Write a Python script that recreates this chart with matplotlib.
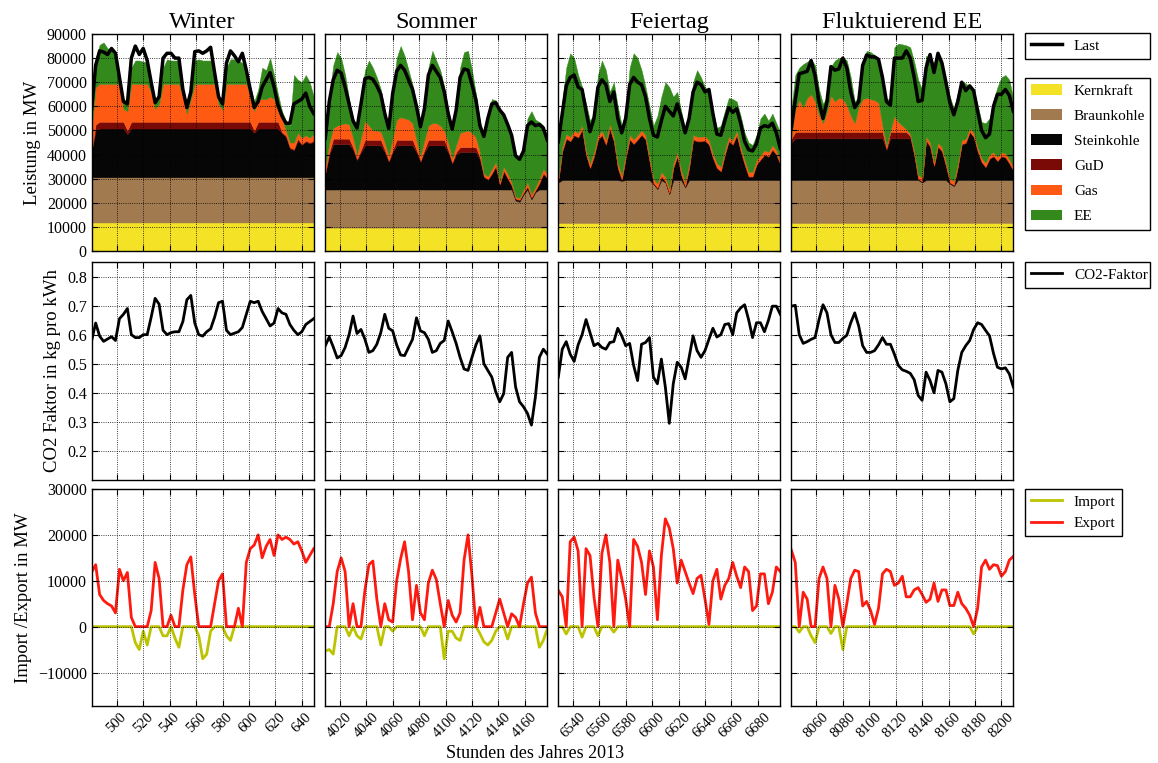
import numpy as np
import matplotlib
matplotlib.use("Agg")
import matplotlib.pyplot as plt
from matplotlib.patches import Patch
from matplotlib.lines import Line2D

plt.rcParams['font.family'] = ['Liberation Serif', 'DejaVu Serif']

# ---------------- data ----------------
scenarios = ["Winter", "Sommer", "Feiertag", "Fluktuierend EE"]
start_hours = [481, 4009, 6529, 8041]
step_hours = 3
xticks = [
    [500, 520, 540, 560, 580, 600, 620, 640],
    [4020, 4040, 4060, 4080, 4100, 4120, 4140, 4160],
    [6540, 6560, 6580, 6600, 6620, 6640, 6660, 6680],
    [8060, 8080, 8100, 8120, 8140, 8160, 8180, 8200],
]

kern_mw = [11800, 9700, 11600, 11600]

# ---- Winter ----
load_w = [59000, 77000, 83000, 82500, 81500, 84000, 82000, 72000, 62000, 61000,
          80000, 85000, 81500, 84000, 79000, 70000, 61500, 64000, 80000, 82000,
          82000, 80000, 80000, 67000, 59500, 66000, 82700, 83000, 82000, 83000,
          84500, 74000, 64000, 61000, 78000, 83000, 81000, 78500, 82000, 75000,
          67000, 59500, 62000, 68000, 71000, 74000, 68000, 60500, 56000, 53000,
          53000, 61000, 62000, 63000, 65500, 60000, 57000]
braun_w = [18800, 18800, 18800, 18800, 18800, 18800, 18800, 18800, 18800, 18800,
           18800, 18800, 18800, 18800, 18800, 18800, 18800, 18800, 18800, 18800,
           18800, 18800, 18800, 18800, 18800, 18800, 18800, 18800, 18800, 18800,
           18800, 18800, 18800, 18800, 18800, 18800, 18800, 18800, 18800, 18800,
           18800, 18800, 18800, 18800, 18800, 18800, 18800, 18800, 18800, 18800,
           18800, 18800, 18800, 18800, 18800, 18800, 18800]
stein_w = [10900, 19400, 20200, 20200, 20200, 20200, 20200, 20200, 20200, 17900,
           20200, 20200, 20200, 20200, 20200, 20200, 20200, 20200, 20200, 20200,
           20200, 20200, 20200, 20200, 20200, 20200, 20200, 20200, 20200, 20200,
           20200, 20200, 20200, 20200, 20200, 20200, 20200, 20200, 20200, 20200,
           20200, 18400, 20200, 20200, 20200, 20200, 20200, 20200, 18200, 16800,
           11900, 11200, 15400, 13300, 14700, 14000, 14700]
gud_w = [300, 2500, 2800, 2800, 2800, 2800, 2800, 2800, 2800, 1500,
         2800, 2800, 2800, 2800, 2800, 2800, 2800, 2800, 2800, 2800,
         2800, 2800, 2800, 2800, 2800, 2800, 2800, 2800, 2800, 2800,
         2800, 2800, 2800, 2800, 2800, 2800, 2800, 2800, 2800, 2800,
         2800, 1000, 2800, 2800, 2800, 2800, 2800, 2800, 500, 500,
         500, 500, 500, 500, 500, 500, 500]
gas_w = [8700, 15500, 15700, 15700, 15700, 15700, 15700, 15700, 5400, 8000,
         15700, 15700, 15700, 15700, 15700, 12400, 5400, 7400, 15700, 15700,
         15700, 15700, 15700, 10400, 3400, 9400, 15700, 15700, 15700, 15700,
         15700, 15700, 7400, 4900, 15700, 15700, 15700, 15700, 15700, 15700,
         10900, 8000, 9400, 9400, 9400, 10400, 9400, 4400, 5700, 2100,
         2000, 2700, 2500, 2600, 2200, 1900, 2700]
ee_w = [13500, 12000, 16200, 17200, 14700, 14700, 10700, 3700, 4000, 4000,
        6700, 9700, 9700, 9200, 9200, 4000, 3500, 3000, 6700, 10200,
        9700, 9700, 9700, 4000, 3500, 4000, 9700, 10200, 9700, 9700,
        9700, 3700, 3500, 3500, 6700, 10200, 10200, 9700, 8700, 5700,
        3500, 4000, 4000, 13000, 12000, 16000, 10000, 7000, 3000, 4000,
        7000, 28000, 22000, 23000, 25000, 23000, 15500]
co2_w = [0.58, 0.64, 0.595, 0.577, 0.585, 0.593, 0.58, 0.655, 0.67, 0.69,
         0.60, 0.59, 0.59, 0.60, 0.60, 0.66, 0.725, 0.705, 0.615, 0.60,
         0.607, 0.61, 0.61, 0.645, 0.72, 0.735, 0.64, 0.60, 0.595, 0.61,
         0.62, 0.66, 0.71, 0.715, 0.615, 0.60, 0.605, 0.61, 0.625, 0.67,
         0.715, 0.71, 0.715, 0.68, 0.655, 0.63, 0.64, 0.69, 0.675, 0.67,
         0.635, 0.615, 0.60, 0.61, 0.635, 0.645, 0.655]
exp_w = [11900, 13500, 7000, 5700, 5000, 4500, 3000, 12500, 10000, 11800,
         2000, 0, 0, 0, 0, 3500, 14000, 10500, 0, 0,
         2500, 0, 0, 8000, 13500, 15200, 7000, 0, 0, 0,
         0, 5000, 10000, 11500, 0, 0, 0, 4000, 0, 14000,
         17000, 17800, 20000, 15000, 17500, 19000, 15500, 20000, 19000, 19500,
         19000, 18000, 18500, 16500, 14000, 15500, 17000]
imp_w = [0, 0, 0, 0, 0, 0, 0, 0, 0, 0,
         0, -3500, -5000, -1000, -4000, 0, 0, 0, -2000, -2000,
         0, -2500, -4500, 0, 0, 0, 0, -2000, -7000, -6000,
         -1000, 0, 0, 0, -2000, -3000, 0, 0, 0, 0,
         0, 0, 0, 0, 0, 0, 0, 0, 0, 0,
         0, 0, 0, 0, 0, 0, 0]

# ---- Sommer ----
load_s = [46700, 62000, 71000, 75000, 73800, 68000, 61000, 54000, 51000, 61000,
          71500, 72000, 71200, 68500, 65000, 57000, 50800, 65400, 74500, 77000,
          75000, 71000, 67000, 60000, 51500, 59000, 73000, 77000, 74500, 72000,
          66000, 57000, 50500, 58400, 72000, 75500, 75000, 69000, 62600, 52000,
          47500, 55000, 61000, 61500, 58500, 56500, 52500, 48000, 39500, 38000,
          41500, 52000, 53500, 52000, 52500, 51000, 46000]
braun_s = [15800, 15800, 15800, 15800, 15800, 15800, 15800, 15800, 15800, 15800,
           15800, 15800, 15800, 15800, 15800, 15800, 15800, 15800, 15800, 15800,
           15800, 15800, 15800, 15800, 15800, 15800, 15800, 15800, 15800, 15800,
           15800, 15800, 15800, 15800, 15800, 15800, 15800, 15800, 15800, 15800,
           15800, 15800, 15800, 15800, 15800, 15800, 15800, 15800, 11200, 10700,
           13700, 15800, 11700, 14700, 15800, 15800, 15800]
stein_s = [6500, 14500, 18800, 18800, 18800, 18800, 18800, 16500, 12200, 15500,
           18300, 18300, 18300, 18300, 18300, 15500, 11500, 15500, 18300, 18300,
           18300, 18300, 18300, 15500, 11500, 15500, 18300, 18300, 18300, 18300,
           18300, 15500, 10800, 14500, 15600, 15600, 15600, 15600, 15600, 12500,
           5200, 4000, 6500, 9500, 2000, 7500, 4500, 1500, 600, 600,
           600, 1000, 600, 600, 2500, 6500, 4500]
gud_s = [500, 1000, 2300, 2300, 2300, 2300, 2300, 1000, 500, 1000,
         2300, 2300, 2300, 2300, 2300, 1000, 500, 1000, 2300, 2300,
         2300, 2300, 2300, 1000, 500, 1000, 2300, 2300, 2300, 2300,
         2300, 1000, 500, 1000, 2000, 2000, 2000, 2000, 2000, 800,
         300, 300, 300, 300, 300, 300, 300, 300, 300, 300,
         300, 300, 300, 300, 300, 300, 300]
gas_s = [2500, 4000, 4400, 5400, 5900, 6400, 5900, 4000, 1800, 5000,
         7900, 5900, 3900, 3900, 3400, 3000, 2000, 5000, 8400, 9400,
         8900, 8400, 6900, 4000, 2000, 4000, 5900, 6900, 6900, 5900,
         3900, 3000, 1700, 3000, 5900, 6400, 6900, 5900, 3900, 2200,
         1000, 1200, 1700, 1700, 1200, 1700, 1700, 1200, 700, 700,
         1200, 1700, 1200, 1200, 1700, 1700, 1700]
ee_s = [10000, 19000, 26000, 30500, 27500, 20000, 10500, 8000, 11000, 16000,
        21000, 27000, 26000, 22000, 17500, 13500, 12000, 20000, 25500, 29500,
        26000, 20500, 16000, 15000, 12500, 14000, 24000, 30000, 26000, 23000,
        18000, 13500, 12500, 15500, 27000, 33000, 33000, 26000, 18000, 13000,
        15000, 25000, 29000, 25500, 30000, 22000, 21000, 20000, 17500, 16500,
        17500, 26500, 34500, 28000, 23500, 18000, 13000]
co2_s = [0.562, 0.592, 0.558, 0.52, 0.528, 0.556, 0.60, 0.664, 0.604, 0.618,
         0.584, 0.539, 0.545, 0.567, 0.607, 0.67, 0.622, 0.613, 0.565, 0.53,
         0.528, 0.556, 0.584, 0.658, 0.613, 0.607, 0.584, 0.539, 0.545, 0.57,
         0.58, 0.647, 0.61, 0.57, 0.522, 0.482, 0.477, 0.522, 0.565, 0.596,
         0.50, 0.477, 0.454, 0.403, 0.369, 0.397, 0.522, 0.539, 0.42, 0.369,
         0.352, 0.329, 0.289, 0.386, 0.522, 0.55, 0.533]
exp_s = [0, 0, 5000, 12000, 15000, 12000, 0, 5000, 0, 0,
         8000, 13500, 14300, 6000, 0, 5000, 1500, 1000, 10000, 14800,
         18500, 12000, 1500, 9000, 3000, 1500, 9500, 12300, 10300, 5000,
         0, 5700, 2500, 1000, 3000, 14500, 20000, 11000, 0, 4200,
         0, 0, 0, 3000, 6000, 3000, 0, 2800, 2000, 0,
         5000, 9500, 10800, 3000, 0, 0, 0]
imp_s = [-5300, -5000, -6000, 0, 0, 0, -2000, 0, -2000, -2700,
         0, 0, 0, 0, -4000, 0, 0, -1000, 0, 0,
         0, 0, 0, 0, 0, -2000, 0, 0, 0, 0,
         -7000, -1000, -1000, -2500, -3000, 0, 0, 0, 0, -1500,
         -3300, -4000, -3000, -1000, 0, 0, -2700, 0, 0, 0,
         0, 0, 0, 0, -4500, -3000, -500]

# ---- Feiertag ----
load_f = [45300, 57000, 68500, 72000, 73000, 68000, 67000, 58000, 49500, 55000,
          68000, 71000, 69000, 62000, 66000, 55000, 49000, 55000, 69000, 72000,
          70000, 69000, 64000, 55000, 48000, 47300, 54000, 60000, 58000, 56000,
          61000, 55500, 49000, 55000, 66000, 70000, 69000, 66000, 67000, 57000,
          48500, 48000, 54000, 59500, 57500, 59000, 53000, 45500, 42000, 41500,
          44500, 51000, 52000, 51500, 53000, 49000, 42500]
braun_f = [16800, 17800, 17800, 17800, 17800, 17800, 17800, 17800, 17800, 17800,
           17800, 17800, 17800, 17800, 17800, 17800, 17500, 17800, 17800, 17800,
           17800, 17800, 17800, 17800, 16100, 14100, 17800, 16800, 12000, 17800,
           17800, 17800, 14800, 17800, 17800, 17800, 17800, 17800, 17800, 17800,
           17800, 17800, 17800, 17800, 17800, 17800, 17800, 17800, 17800, 17800,
           17800, 17800, 17800, 17800, 17800, 17800, 17800]
stein_f = [300, 11800, 17100, 16000, 18500, 17600, 20800, 10400, 4900, 9700,
           16700, 18500, 14600, 21200, 16000, 4900, 300, 9000, 16700, 14900,
           16700, 18700, 16700, 7700, 300, 300, 1400, 300, 300, 4900,
           9700, 2100, 300, 4900, 16700, 16000, 16000, 16200, 14600, 9000,
           4900, 3500, 10400, 16000, 14600, 18500, 11800, 6300, 1400, 1400,
           6300, 8400, 10400, 9700, 12500, 10400, 6300]
gud_f = [300, 300, 300, 300, 300, 300, 300, 300, 300, 300,
         300, 300, 300, 300, 300, 300, 300, 300, 300, 300,
         300, 300, 300, 300, 300, 300, 300, 300, 300, 300,
         300, 300, 300, 300, 300, 300, 300, 300, 300, 300,
         300, 300, 300, 300, 300, 300, 300, 300, 300, 300,
         300, 300, 300, 300, 300, 300, 300]
gas_f = [1700, 1700, 1700, 1700, 1700, 1700, 1700, 1700, 1700, 1700,
         1700, 1700, 1700, 1700, 1700, 1700, 1700, 1700, 1700, 1700,
         1700, 1700, 1700, 1700, 1700, 1700, 1700, 1700, 1700, 1700,
         1700, 1700, 1700, 1700, 1700, 1700, 1700, 1700, 1700, 1700,
         1700, 1700, 1700, 1700, 1700, 1700, 1700, 1700, 1700, 1700,
         1700, 1700, 1700, 1700, 1700, 1700, 1700]
ee_f = [17300, 18800, 27500, 34600, 30100, 24000, 15800, 19200, 17700, 15900,
        24900, 29100, 29000, 13400, 22600, 23700, 20600, 17600, 27900, 35700,
        31900, 24900, 19900, 20900, 22000, 28000, 31200, 39300, 42100, 27700,
        24900, 24500, 21800, 20700, 21900, 27600, 24600, 20400, 20000, 17600,
        14700, 17100, 16200, 16100, 17000, 12100, 12800, 11300, 12200, 11200,
        10300, 15200, 15200, 12900, 13100, 11200, 11300]
co2_f = [0.454, 0.55, 0.576, 0.533, 0.508, 0.565, 0.60, 0.652, 0.607, 0.562,
         0.57, 0.556, 0.55, 0.573, 0.576, 0.622, 0.596, 0.562, 0.57, 0.494,
         0.442, 0.567, 0.573, 0.59, 0.454, 0.431, 0.516, 0.42, 0.295, 0.431,
         0.505, 0.488, 0.448, 0.522, 0.596, 0.545, 0.522, 0.545, 0.584, 0.622,
         0.592, 0.60, 0.635, 0.638, 0.60, 0.675, 0.692, 0.703, 0.652, 0.59,
         0.641, 0.641, 0.61, 0.649, 0.698, 0.698, 0.67]
exp_f = [7900, 6500, 0, 18500, 19500, 16500, 0, 17000, 15500, 6500,
         0, 16000, 20000, 14000, 0, 14500, 10500, 6000, 0, 19000,
         17500, 14000, 7000, 16500, 13000, 1500, 15500, 23500, 21500, 17000,
         9500, 14500, 12000, 9500, 7200, 10500, 11200, 6000, 500, 10000,
         12500, 6000, 9000, 10500, 14000, 11000, 8500, 13000, 12000, 3500,
         4500, 11500, 11500, 5000, 7500, 13000, 12000]
imp_f = [0, 0, -1600, 0, 0, 0, -2300, 0, 0, 0,
         -2000, 0, 0, 0, -1200, 0, 0, 0, 0, 0,
         0, 0, 0, 0, 0, 0, 0, 0, 0, 0,
         0, 0, 0, 0, 0, 0, 0, 0, 0, 0,
         0, 0, 0, 0, 0, 0, 0, 0, 0, 0,
         0, 0, 0, 0, 0, 0, 0]

# ---- Fluktuierend EE ----
load_e = [50800, 62500, 73500, 74000, 74500, 79000, 72500, 61800, 55000, 62000,
          76500, 75000, 75500, 80000, 76000, 66000, 59500, 62000, 77000, 81300,
          80600, 80500, 79500, 72000, 62000, 60500, 80000, 80000, 80000, 83000,
          80000, 72000, 62000, 62500, 76000, 81500, 74000, 82000, 78000, 70000,
          61500, 56500, 62000, 70000, 66500, 68500, 66500, 58000, 50000, 47000,
          48500, 60000, 65000, 65000, 67000, 64500, 58000]
braun_e = [17800, 17800, 17800, 17800, 17800, 17800, 17800, 17800, 17800, 17800,
           17800, 17800, 17800, 17800, 17800, 17800, 17800, 17800, 17800, 17800,
           17800, 17800, 17800, 17800, 17800, 17800, 17800, 17800, 17800, 17800,
           17800, 17800, 17800, 16800, 17800, 17800, 17800, 17800, 17800, 17800,
           16300, 15300, 17800, 17800, 17800, 17800, 17800, 17800, 17800, 17800,
           17800, 17800, 17800, 17800, 17800, 17800, 17800]
stein_e = [15600, 17300, 17300, 17300, 17300, 17300, 17300, 17300, 17300, 17300,
           17300, 17300, 17300, 17300, 17300, 17300, 17300, 17300, 17300, 17300,
           17300, 17300, 17300, 17300, 12600, 17300, 17300, 17300, 17300, 17300,
           17300, 10300, 300, 300, 16300, 13800, 5800, 13800, 11800, 5800,
           300, 300, 5300, 14800, 15300, 19800, 17800, 11800, 7300, 5300,
           8800, 9800, 7800, 9800, 9300, 6800, 3800]
gud_e = [1500, 2700, 2700, 2700, 2700, 2700, 2700, 2700, 2700, 2700,
         2700, 2700, 2700, 2700, 2700, 2700, 2700, 2700, 2700, 2700,
         2700, 2700, 2700, 2700, 500, 2700, 2700, 2700, 2700, 2700,
         1000, 300, 300, 300, 300, 300, 300, 300, 300, 300,
         300, 300, 300, 300, 300, 300, 300, 300, 300, 300,
         300, 300, 300, 300, 300, 300, 300]
gas_e = [1500, 9600, 13200, 10100, 14100, 15600, 12600, 7100, 3600, 8600,
         15100, 12600, 14100, 13600, 11100, 6600, 3600, 10600, 13600, 14100,
         13600, 13100, 12100, 2600, 1500, 600, 6600, 4100, 2600, 1100,
         800, 1500, 1500, 1500, 1500, 1500, 1500, 1500, 1500, 1500,
         1500, 1500, 1500, 1500, 1500, 1500, 1500, 1500, 1500, 1500,
         1500, 1500, 1500, 1500, 1500, 1500, 1500]
ee_e = [11000, 14000, 13400, 18000, 15000, 14500, 15000, 10500, 8000, 6000,
        12000, 17000, 16500, 17500, 18500, 16000, 9000, 4000, 14000, 19500,
        19500, 18800, 18000, 18000, 19000, 13000, 28500, 32500, 33700, 34800,
        36000, 37000, 39500, 36500, 33500, 35000, 41000, 37700, 35000, 34000,
        34000, 30000, 29000, 24500, 23000, 17000, 18000, 17500, 15000, 16500,
        15000, 21500, 29000, 31000, 32500, 33000, 28000]
co2_e = [0.698, 0.701, 0.60, 0.57, 0.576, 0.584, 0.59, 0.652, 0.703, 0.675,
         0.60, 0.573, 0.573, 0.587, 0.598, 0.641, 0.675, 0.63, 0.562, 0.539,
         0.539, 0.545, 0.565, 0.59, 0.567, 0.567, 0.533, 0.494, 0.479, 0.474,
         0.467, 0.445, 0.391, 0.374, 0.471, 0.442, 0.40, 0.477, 0.471, 0.431,
         0.369, 0.38, 0.477, 0.539, 0.562, 0.58, 0.618, 0.641, 0.635, 0.615,
         0.596, 0.536, 0.488, 0.482, 0.486, 0.465, 0.42]
exp_e = [16700, 14000, 0, 7500, 6000, 0, 0, 10500, 13000, 10500,
         0, 9000, 6000, 0, 5000, 10500, 12300, 12000, 4500, 5500,
         3500, 500, 4000, 11500, 12500, 12000, 9000, 9500, 11000, 6500,
         6500, 8000, 8500, 7000, 5300, 6000, 9500, 5500, 8000, 8000,
         4600, 4600, 7500, 5000, 4000, 2500, 0, 4000, 13000, 14500,
         12500, 13500, 13300, 11000, 12000, 14500, 15300]
imp_e = [0, 0, -1200, 0, 0, -2000, -3500, 0, 0, 0,
         -1500, 0, 0, -5000, 0, 0, 0, 0, 0, 0,
         0, 0, 0, 0, 0, 0, 0, 0, 0, 0,
         0, 0, 0, 0, 0, 0, 0, 0, 0, 0,
         0, 0, 0, 0, 0, 0, -1600, 0, 0, 0,
         0, 0, 0, 0, 0, 0, 0]

loads = [load_w, load_s, load_f, load_e]
braun = [braun_w, braun_s, braun_f, braun_e]
stein = [stein_w, stein_s, stein_f, stein_e]
gud = [gud_w, gud_s, gud_f, gud_e]
gas = [gas_w, gas_s, gas_f, gas_e]
ee = [ee_w, ee_s, ee_f, ee_e]
co2 = [co2_w, co2_s, co2_f, co2_e]
exports = [exp_w, exp_s, exp_f, exp_e]
imports = [imp_w, imp_s, imp_f, imp_e]

stack_labels = ["Kernkraft", "Braunkohle", "Steinkohle", "GuD", "Gas", "EE"]
stack_colors = ["#f4e226", "#a27a50", "#060606", "#7a0a06", "#ff5a14", "#33891b"]
imp_color = "#bcc400"
exp_color = "#ff1a10"

# ---------------- figure ----------------
W, H = 1158, 763
fig = plt.figure(figsize=(W / 100, H / 100), dpi=100)

col_left = [91.7, 325.3, 558.3, 791.3]
col_w = 222
row_top = [34, 262, 489]
row_h = [217, 218, 217]

def add_ax(r, c):
    l = col_left[c] / W
    b = 1 - (row_top[r] + row_h[r]) / H
    return fig.add_axes([l, b, col_w / W, row_h[r] / H])

tick_fs = 11.5
for c, sc in enumerate(scenarios):
    n = len(loads[c])
    x = start_hours[c] + step_hours * np.arange(n)
    kern = np.full(n, kern_mw[c])
    ax1 = add_ax(0, c)
    ax2 = add_ax(1, c)
    ax3 = add_ax(2, c)

    ax1.stackplot(x, kern, braun[c], stein[c], gud[c], gas[c], ee[c],
                  colors=stack_colors, linewidth=0.3, edgecolor='face')
    ax1.plot(x, loads[c], color='k', lw=2.5)
    ax1.set_ylim(0, 90000)
    ax1.set_yticks(np.arange(0, 90001, 10000))
    ax1.set_title(sc, fontsize=17.5, pad=4)

    ax2.plot(x, co2[c], color='k', lw=2)
    ax2.set_ylim(0.1, 0.85)
    ax2.set_yticks([0.2, 0.3, 0.4, 0.5, 0.6, 0.7, 0.8])

    ax3.plot(x, imports[c], color=imp_color, lw=2)
    ax3.plot(x, exports[c], color=exp_color, lw=2)
    ax3.set_ylim(-17300, 30000)
    ax3.set_yticks([-10000, 0, 10000, 20000, 30000])

    for ax in (ax1, ax2, ax3):
        ax.set_xlim(start_hours[c], start_hours[c] + 168)
        ax.set_xticks(xticks[c])
        ax.grid(True, color='k', linestyle=':', linewidth=0.6)
        ax.set_axisbelow(False)
        ax.tick_params(direction='in', top=True, right=True, labelsize=tick_fs,
                       length=4)
        for s in ax.spines.values():
            s.set_linewidth(1.0)
        if c != 0:
            ax.tick_params(labelleft=False)
    ax1.tick_params(labelbottom=False)
    ax2.tick_params(labelbottom=False)
    ax3.tick_params(axis='x', labelsize=10.5, pad=3)
    for lab in ax3.get_xticklabels():
        lab.set_rotation(45)

    if c == 0:
        ax1.set_ylabel("Leistung in MW", fontsize=13.5)
        ax2.set_ylabel("CO2 Faktor in kg pro kWh", fontsize=13.5)
        ax3.set_ylabel("Import /Export in MW", fontsize=13.5)

fig.text(535 / W, 1 - 753 / H, "Stunden des Jahres 2013", ha='center', va='center',
         fontsize=13)

# ---------------- legends ----------------
leg_kw = dict(fancybox=False, edgecolor='k', framealpha=1, fontsize=11,
              loc='upper left', borderaxespad=0, handlelength=2.0)
lx = 1025 / W
lw_ = 125 / W

h_last = [Line2D([], [], color='k', lw=2.5)]
fig.legend(h_last, ["Last"], bbox_to_anchor=(lx, 1 - 33 / H, lw_, 0.0001),
           mode='expand', **leg_kw)

h_stack = [Patch(facecolor=col, edgecolor='none') for col in stack_colors]
fig.legend(h_stack, stack_labels, bbox_to_anchor=(lx, 1 - 78 / H, lw_, 0.0001),
           mode='expand', labelspacing=0.75, **leg_kw)

h_co2 = [Line2D([], [], color='k', lw=2)]
fig.legend(h_co2, ["CO2-Faktor"], bbox_to_anchor=(lx, 1 - 262 / H, lw_, 0.0001),
           mode='expand', **leg_kw)

h_ie = [Line2D([], [], color=imp_color, lw=2), Line2D([], [], color=exp_color, lw=2)]
fig.legend(h_ie, ["Import", "Export"], bbox_to_anchor=(lx, 1 - 489 / H),
           **leg_kw)

fig.savefig("out.png", dpi=100)
